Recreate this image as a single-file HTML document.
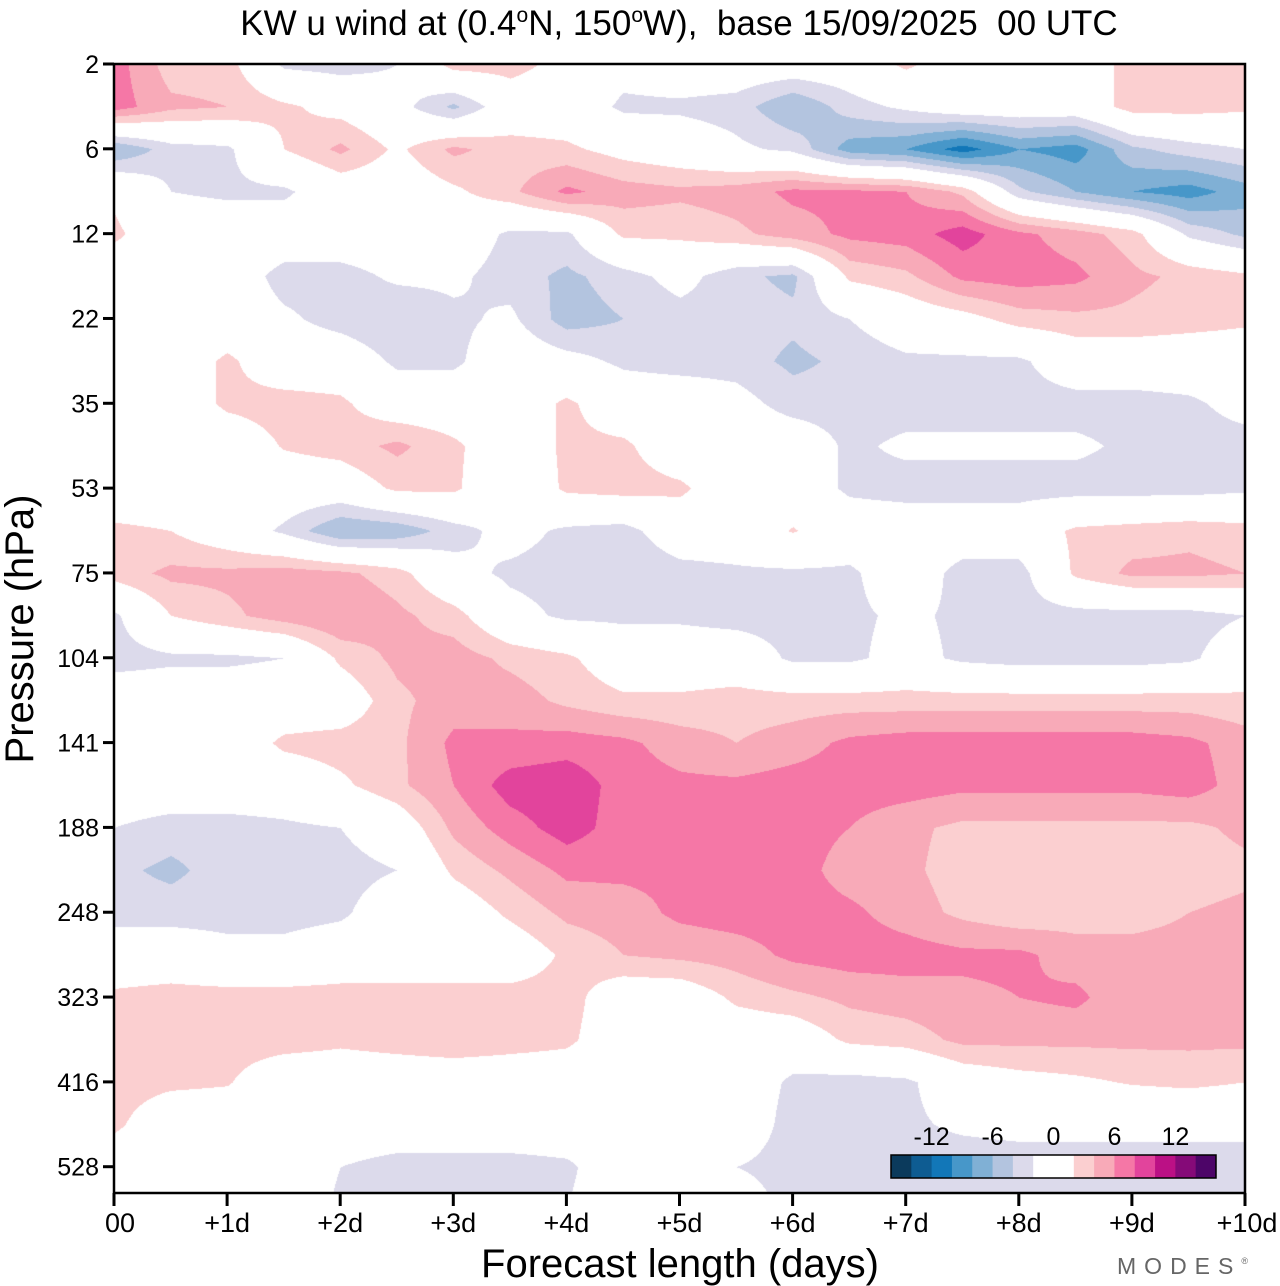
<!DOCTYPE html>
<html><head><meta charset="utf-8">
<style>
html,body{margin:0;padding:0;background:#fff;}
body{width:1280px;height:1286px;position:relative;overflow:hidden;font-family:"Liberation Sans",sans-serif;}
#plot{position:absolute;left:114px;top:64px;}
#ov{position:absolute;left:0;top:0;}
</style></head>
<body>
<canvas id="plot" width="1131" height="1129"></canvas>
<svg id="ov" width="1280" height="1286" font-family="Liberation Sans, sans-serif">
<text x="679" y="35" font-size="35" text-anchor="middle" style="white-space:pre" xml:space="preserve">KW u wind at (0.4<tspan font-size="21" dy="-13">o</tspan><tspan dy="13">N, 150</tspan><tspan font-size="21" dy="-13">o</tspan><tspan dy="13">W),  base 15/09/2025  00 UTC</tspan></text>
<g id="yt"></g>
<g id="xt"></g>
<rect x="114" y="64" width="1131" height="1129" fill="none" stroke="#000" stroke-width="2.5"/>
<text transform="translate(33,629) rotate(-90)" font-size="40" text-anchor="middle">Pressure (hPa)</text>
<text x="680" y="1277" font-size="40" text-anchor="middle">Forecast length (days)</text>
<g id="leg"></g>
<text x="1256" y="1274" font-size="23" fill="#666" text-anchor="end" letter-spacing="8">MODES<tspan font-size="9" dy="-10">®</tspan></text>
</svg>
<script>
const days=[0,1,2,3,4,5,6,7,8,9,10];
const xLabels=["00","+1d","+2d","+3d","+4d","+5d","+6d","+7d","+8d","+9d","+10d"];
const pLabels=["2","6","12","22","35","53","75","104","141","188","248","323","416","528"];
const legendLabels=["-12","-6","0","6","12"];
const legendLevels=[-12,-6,0,6,12];
// u wind grid: rows = half pressure ticks (0..27), cols = every 0.5 day
const grid=[
[7,3,3,-2.5,-3,-2,3,3,1,-1,0,0,0,0,2.5,0,1,0,3,3,3],
[7,4.5,4,2.5,1,-1,-4.5,0,0,-2.5,-2.5,-3,-6,-3,-1.5,0,0,0,3,3,2.5],
[-6,-3,-2.5,2,4.5,1.5,4.5,3,2.5,1,0,-1.5,-2.5,-7,-8,-11,-8,-9,-4.5,-3,-2],
[1.5,-2,-2.5,-2.5,0,0,1.5,3.5,6.5,5,4.5,5,6.5,6.5,6,3.5,-3.5,-6,-8,-9,-7],
[2.5,0,0,0,0,0,0,-2.5,-2.5,2.5,2.5,3.5,5,6.5,7,9,6.5,5,3,-2.5,-4.5],
[0,0,0,-3,-3,-1.5,-1.5,-3,-4.5,-3,-1,-3.5,-4.5,2.5,3.5,6.5,7,6.5,4.5,3.5,2.5],
[0,0,0,-1.5,-3,-4,-2.5,-1.5,-5,-4,-3,-3,-3.5,-2,0,1,3,3.5,3.5,3,2.5],
[0,0,2.5,0,0,-2.5,-2.5,0,-1,-2.5,-3,-3,-4.5,-3.5,-2.5,-2.5,-2.5,0,0,0,0],
[0,0,2.5,3,2.5,0,0,0,2.5,0,0,-1,-3,-3,-3,-3,-3,-3,-3,-2.5,-1],
[0,0,0,2.2,3,4.5,2.5,0,2.5,2.5,0,0,0,-2.5,-1.5,-1.5,-1.5,-1.5,-2.5,-3,-3],
[0,0,0,0,0,2.5,2.5,-1,2.5,3,2.5,0,0,-2.5,-3,-3,-3,-3,-3,-3,-2.5],
[2.5,2,0,-2.5,-6,-5.5,-3,-1,-2.5,-3,0,0,2.2,0,0,0,0,2.5,3,3.5,3],
[3,4.5,4.5,5,4.5,3,-1,-2.5,-3,-4,-3,-2.5,-2.5,-2.5,0,-3,-3,2.5,4.5,4.5,4],
[-2.5,2,3.5,5,6,4.5,3,-1,-2.5,-2.5,-2.5,-3,-3,-2.5,-1.5,-2.5,-3,-3,-3,-3,-2],
[-3,-2.5,-2.5,-2,2.5,4.5,5,3.5,2.5,0,0,0,-2.5,-2.5,-1,-2.5,-3,-3,-3,-2.5,0],
[0,0,0,0,0,3.5,5,5,3.5,2.5,2.5,3,3,3,3,3,3,3,3,3,2.5],
[0,0,0,2.5,3,3.5,6.5,6.5,7,6.5,5,4,5,6.5,7,7,7,7,7,6.5,5],
[0,0,0,0,1.5,3.5,6,9,9.5,7,6.5,6.5,7,7,7,6.5,6.5,6.5,6.5,7,5],
[-2,-3,-3,-2.5,-2,0,4.5,7,9,7,6.5,6.5,7,6,4.5,3.5,3.5,3.5,3.5,3.5,4.5],
[-3.5,-4.5,-3,-3,-3,-2,2.5,4.5,6.5,6.5,6.5,6.5,7,5,4.5,3,3,3,3,3,3.5],
[-3,-3,-3,-3,-2.5,0,0,2.5,4.5,5,6.5,7,7,6.5,5,3.5,2.5,3,3.5,4,4.5],
[0,0,-1,-1,0,0,0,0,2.5,4,4.5,5,6.5,7,7,6.5,6.5,5,4.5,4.5,4.5],
[2.5,3,3,3,3,3,3,3,3,0,0,2.5,3.5,4.5,5,5.5,6,6.5,4.5,4.5,4.5],
[2.5,3,3,3,2.5,3,3.5,3,2.5,0,0,0,0,2.5,3,4.5,4.5,4.5,4.5,4.5,4.5],
[3,2.5,2.2,0,0,0,0,0,0,0,0,0,-2.5,-3,-2.5,0,1,1.5,2.2,2.5,2],
[2.5,0,0,0,0,0,0,0,0,0,0,0,-3,-3,-2.5,-1.5,-1,-1,-1,-1,-1],
[0,0,0,0,-2,-3,-3,-3,-2.5,0,0,-2,-3,-3,-3,-3.5,-3.5,-3.5,-3.5,-3.5,-3.5],
[0,0,0,0,-2.5,-3,-3,-3,-2,0,0,0,-3,-3,-3.5,-3.5,-3.5,-3.5,-3.5,-3.5,-3.5]
];
const colors=["#0b3a5c","#0e5c92","#1277b8","#4797c9","#80b0d5","#b3c4df","#dcdaeb","#ffffff","#ffffff","#fbcfd0","#f8aab8","#f577a6","#e2449c","#bb1085","#850a78","#4d0568"];
const L=114,T=64,W=1131,H=1129;
const xScale=d=>L+d/10*W;
const yScale=i=>T+i*(H/13.31);
const ncol=grid[0].length, nrow=grid.length;
const colX=c=>xScale(c*10/(ncol-1));
const rowY=r=>yScale(r/2);
(function(){
const cv=document.getElementById('plot'),ctx=cv.getContext('2d');
const img=ctx.createImageData(W,H);
const rgb=colors.map(h=>[parseInt(h.slice(1,3),16),parseInt(h.slice(3,5),16),parseInt(h.slice(5,7),16)]);
const cw=colX(1)-colX(0), rh=rowY(1)-rowY(0);
for(let py=0;py<H;py++){
 const fy=(py+T-rowY(0))/rh;let r0=Math.floor(fy);if(r0>nrow-2)r0=nrow-2;const ty=fy-r0;
 for(let px=0;px<W;px++){
  const fx=(px+L-colX(0))/cw;let c0=Math.floor(fx);if(c0>ncol-2)c0=ncol-2;const tx=fx-c0;
  const v=(grid[r0][c0]*(1-tx)+grid[r0][c0+1]*tx)*(1-ty)+(grid[r0+1][c0]*(1-tx)+grid[r0+1][c0+1]*tx)*ty;
  let k=Math.floor((v+16)/2);if(k<0)k=0;if(k>15)k=15;
  const o=(py*W+px)*4,c=rgb[k];img.data[o]=c[0];img.data[o+1]=c[1];img.data[o+2]=c[2];img.data[o+3]=255;
 }
}
ctx.putImageData(img,0,0);
})();
const NS="http://www.w3.org/2000/svg";
function mk(tag,attrs,parent){const e=document.createElementNS(NS,tag);for(const k in attrs)e.setAttribute(k,attrs[k]);parent.appendChild(e);return e;}
const yt=document.getElementById('yt');
pLabels.forEach((p,i)=>{
 const y=yScale(i);
 const t=mk('line',{x1:103,x2:114,y1:y,y2:y,stroke:'#000','stroke-width':3},yt);
 
 
 const tx=mk('text',{x:99,y:y+9,'font-size':25,'text-anchor':'end'},yt);
 tx.textContent=p;
 
 
});
const xt=document.getElementById('xt');
days.forEach((d,i)=>{
 const x=xScale(d);
 const t=mk('line',{x1:x,x2:x,y1:1193,y2:1206,stroke:'#000','stroke-width':3},xt);
 
 
 const tx=mk('text',{x:x+(i==0?6:(i==10?2:0)),y:1232,'font-size':27,'text-anchor':'middle'},xt);
 tx.textContent=xLabels[i];
 
 
});
const leg=document.getElementById('leg');
const lx=891,lw=325,ly=1155,lh=23,bw=lw/16;
colors.forEach((c,i)=>{
 const r=mk('rect',{x:lx+i*bw,y:ly,width:bw+0.5,height:lh,fill:c},leg);
 
 
});
mk('rect',{x:lx,y:ly,width:lw,height:lh,fill:'none',stroke:'#000','stroke-width':1.5},leg);
legendLevels.forEach((v,i)=>{
 const t=mk('text',{x:lx+lw/2+v*bw/2,y:1145,'font-size':25,'text-anchor':'middle'},leg);
 t.textContent=legendLabels[i];
 
 
});
</script>
</body></html>
